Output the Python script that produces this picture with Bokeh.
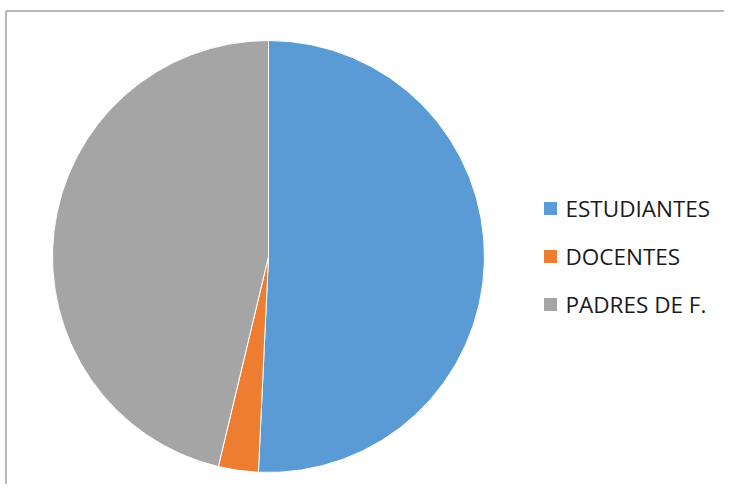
import math
from bokeh.plotting import figure
from bokeh.models import ColumnDataSource, Range1d
from bokeh.core.properties import value
from bokeh.embed import file_html
from bokeh.resources import INLINE

categories = ["ESTUDIANTES", "DOCENTES", "PADRES DE F."]
counts = [34, 2, 31]
colors = ["#5B9BD5", "#ED7D31", "#A5A5A5"]

W, H = 724, 484

def py(y):
    return H - y

p = figure(width=W, height=H, output_backend="svg", toolbar_location=None,
           x_range=Range1d(0, W), y_range=Range1d(0, H),
           min_border=0, outline_line_color=None)
p.axis.visible = False
p.grid.visible = False
p.background_fill_color = "white"
p.border_fill_color = "white"

total = sum(counts)
starts, ends = [], []
cum = 0.0
for c in counts:
    starts.append(math.pi / 2 - cum / total * 2 * math.pi)
    cum += c
    ends.append(math.pi / 2 - cum / total * 2 * math.pi)

src = ColumnDataSource(dict(cat=categories, val=counts, color=colors,
                            start=starts, end=ends))
p.wedge(x=268, y=py(256), radius=216, start_angle="start", end_angle="end",
        direction="clock", fill_color="color", line_color="white",
        line_width=1, source=src)

# chart frame (top and left edges visible)
p.segment(x0=[5.5, 5.5], y0=[py(10.5), py(10.5)], x1=[W, 5.5], y1=[py(10.5), 0],
          line_color="#A0A0A0", line_width=1.5)

# legend
ly = [208, 256, 304]
leg = ColumnDataSource(dict(cat=categories, color=colors,
                            y=[py(v) for v in ly]))
p.rect(x=550, y="y", width=13, height=13, fill_color="color", line_color=None,
       source=leg)
p.text(x=565, y="y", text="cat", text_font=value("Open Sans"),
       text_font_size="22.5px", text_baseline="middle", text_color="#1a1a1a",
       source=leg)

open("out.html", "w").write(file_html(p, INLINE))
